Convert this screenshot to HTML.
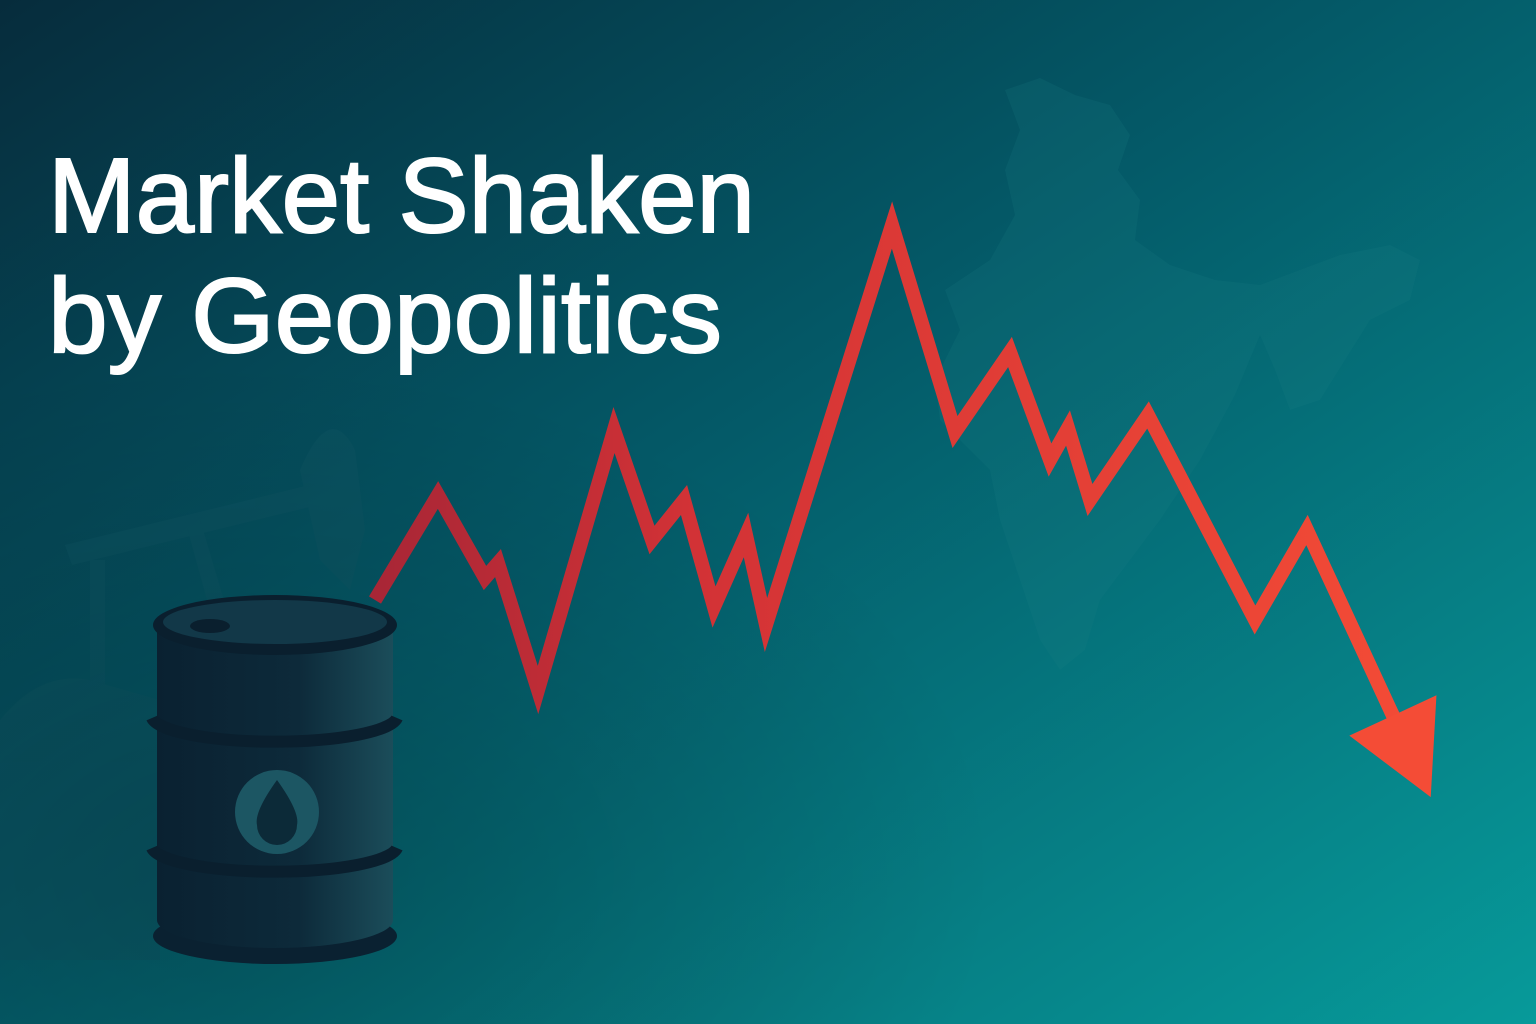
<!DOCTYPE html>
<html><head><meta charset="utf-8">
<style>
html,body{margin:0;padding:0;width:1536px;height:1024px;overflow:hidden;background:#064050;}
svg{display:block}
</style></head>
<body>
<svg id="chart" width="1536" height="1024" viewBox="0 0 1536 1024" xmlns="http://www.w3.org/2000/svg">
<defs>
<linearGradient id="bg" x1="0" y1="0" x2="1" y2="1">
<stop offset="0" stop-color="#062c3c"/>
<stop offset="0.45" stop-color="#045a68"/>
<stop offset="1" stop-color="#079a9a"/>
</linearGradient>
<linearGradient id="lineGrad" x1="375" y1="0" x2="1435" y2="0" gradientUnits="userSpaceOnUse">
<stop offset="0" stop-color="#a82636"/>
<stop offset="0.3" stop-color="#d23236"/>
<stop offset="1" stop-color="#f44c36"/>
</linearGradient>
<linearGradient id="barrelGrad" x1="0" y1="0" x2="1" y2="0">
<stop offset="0" stop-color="#0a2131"/>
<stop offset="0.6" stop-color="#0d2a3a"/>
<stop offset="1" stop-color="#1b4d5a"/>
</linearGradient>
<radialGradient id="glow" cx="0.15" cy="0.85" r="0.5">
<stop offset="0" stop-color="#000" stop-opacity="0.2"/>
<stop offset="1" stop-color="#000" stop-opacity="0"/>
</radialGradient>
</defs>
<rect width="1536" height="1024" fill="url(#bg)"/>
<path fill="#1a7f86" opacity="0.18" d="M1005,90 L1040,78 L1075,95 L1110,105 L1130,135 L1118,170 L1140,200 L1135,240 L1170,265 L1215,280 L1260,285 L1300,270 L1340,255 L1390,245 L1420,260 L1410,300 L1370,320 L1345,360 L1320,400 L1290,410 L1275,370 L1260,335 L1235,395 L1200,460 L1160,520 L1130,560 L1100,600 L1085,650 L1060,670 L1040,640 L1020,580 L1000,520 L990,470 L960,440 L940,420 L935,380 L960,330 L945,290 L990,260 L1015,215 L1005,170 L1020,130 Z"/>
<g fill="#0f5563" opacity="0.4">
<path d="M65,545 L330,480 L338,500 L72,565 Z"/>
<path d="M300,470 Q330,400 355,450 L365,530 L350,590 L320,560 Z"/>
<path d="M185,520 L200,520 L260,720 L240,720 Z"/>
<path d="M90,560 L105,560 L105,720 L90,720 Z"/>
<path d="M0,720 Q40,670 90,680 L160,700 L160,960 L0,960 Z"/>
</g>
<rect width="1536" height="1024" fill="url(#glow)"/>
<g fill="#ffffff" stroke="#ffffff" stroke-width="2" font-family="'Liberation Sans', sans-serif" font-size="106">
<text x="48" y="232" textLength="707" lengthAdjust="spacingAndGlyphs">Market Shaken</text>
<text x="48" y="352" textLength="674" lengthAdjust="spacingAndGlyphs">by Geopolitics</text>
</g>
<g id="series"></g>
<g>
<ellipse cx="275" cy="936" rx="122" ry="28" fill="#0a2131"/>
<path d="M157,628 L157,920 A118,28 0 0 0 393,920 L393,628 Z" fill="url(#barrelGrad)"/>
<path d="M152,718 A123,26 0 0 0 397,718" fill="none" stroke="#0a1f2e" stroke-width="12"/>
<path d="M152,848 A123,26 0 0 0 397,848" fill="none" stroke="#0a1f2e" stroke-width="12"/>
<ellipse cx="275" cy="625" rx="122" ry="30" fill="#0a1f2e"/>
<ellipse cx="275" cy="622" rx="112" ry="22" fill="#123848"/>
<ellipse cx="210" cy="626" rx="20" ry="7" fill="#0a1f2e"/>
<circle cx="277" cy="812" r="42" fill="#1c5663"/>
<path d="M277,780 Q300,812 297,825 A20,20 0 0 1 257,825 Q254,812 277,780 Z" fill="#0c2a38"/>
</g>
</svg>
<script>
var times=[0,6.3,11,12.3,16.3,23.9,27.7,30.9,33.9,37.1,39.1,51.7,58,63.5,67.5,69.3,71.5,77.3,88,93.2,102];
var prices=[40,50.5,42.2,43.7,31,57,46,50,39.3,46.5,37.5,77.5,56.8,64.8,54,57.2,50,58.5,38,47,28];
function xScale(t){return 375+t*10;}
function yScale(v){return 1000-v*10;}
var g=document.getElementById('series');
var NS='http://www.w3.org/2000/svg';
var d='';
for(var i=0;i<times.length;i++){d+=(i?'L':'M')+xScale(times[i]).toFixed(1)+','+yScale(prices[i]).toFixed(1);}
var line=document.createElementNS(NS,'path');
line.setAttribute('d',d);
line.setAttribute('fill','none');
line.setAttribute('stroke','url(#lineGrad)');
line.setAttribute('stroke-width','14');
line.setAttribute('stroke-linejoin','miter');
line.setAttribute('stroke-miterlimit','6');


g.appendChild(line);
var n=times.length;
var x1=xScale(times[n-2]),y1=yScale(prices[n-2]),x2=xScale(times[n-1]),y2=yScale(prices[n-1]);
var dx=x2-x1,dy=y2-y1,L=Math.sqrt(dx*dx+dy*dy);dx/=L;dy/=L;
var tipX=x2+dx*85,tipY=y2+dy*85,bx=x2-dx*5,by=y2-dy*5;
var px=-dy,py=dx;
var head=document.createElementNS(NS,'path');
head.setAttribute('d','M'+tipX+','+tipY+' L'+(bx+px*48)+','+(by+py*48)+' L'+(bx-px*48)+','+(by-py*48)+' Z');
head.setAttribute('fill','#f44c36');


g.appendChild(head);
</script>
</body></html>
